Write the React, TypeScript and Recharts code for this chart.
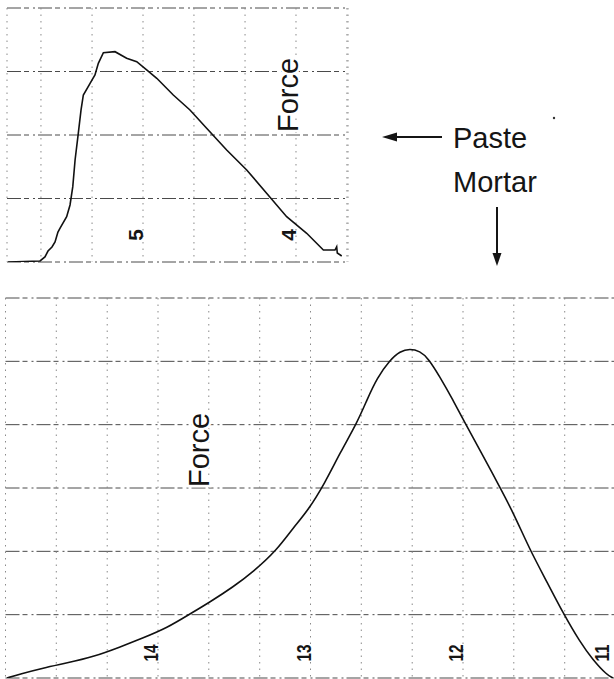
import React from 'react';
import { LineChart, Line, XAxis, YAxis, CartesianGrid } from 'recharts';

// ---------- Paste (upper trace) ----------
const pasteTime = [
  5.882, 5.673, 5.641, 5.621, 5.595, 5.575, 5.556, 5.542, 5.499, 5.477, 5.459, 5.444,
  5.423, 5.405, 5.39, 5.346, 5.314, 5.292, 5.259, 5.183, 5.107, 5.041, 4.976, 4.91,
  4.802, 4.693, 4.584, 4.453, 4.322, 4.192, 4.061, 3.93, 3.821, 3.745, 3.734, 3.73, 3.701,
];
const pasteForce = [
  0, 0.016, 0.079, 0.173, 0.236, 0.315, 0.472, 0.535, 0.713, 0.898, 1.186, 1.606,
  2.027, 2.394, 2.63, 2.814, 2.945, 3.129, 3.296, 3.312, 3.208, 3.154, 3.024, 2.893,
  2.63, 2.394, 2.106, 1.764, 1.449, 1.082, 0.713, 0.452, 0.189, 0.189, 0.241, 0.142, 0.094,
];
const pasteGridTicks = [5.667, 5.333, 5, 4.667, 4.333, 4, 3.667];
const pasteLabelTicks = [5, 4];
const pasteForceTicks = [0, 1, 2, 3, 4];

// ---------- Mortar (lower trace) ----------
const mortarTime = [
  14.99, 14.905, 14.754, 14.597, 14.426, 14.249, 14.098, 13.941, 13.79, 13.659, 13.508,
  13.377, 13.22, 13.115, 13.023, 12.905, 12.807, 12.695, 12.63, 12.564, 12.479, 12.413,
  12.348, 12.282, 12.23, 12.151, 12.066, 11.987, 11.889, 11.777, 11.672, 11.561, 11.449,
  11.344, 11.233, 11.148, 11.056, 11.016,
];
const mortarForce = [
  0, 0.063, 0.158, 0.237, 0.332, 0.489, 0.632, 0.79, 1.011, 1.2, 1.437,
  1.674, 2.021, 2.369, 2.621, 3.079, 3.553, 4.027, 4.39, 4.737, 5.021, 5.16,
  5.2, 5.16, 5.053, 4.753, 4.39, 4.027, 3.6, 3.095, 2.621, 2.021, 1.516,
  1.026, 0.568, 0.284, 0.047, 0,
];
const mortarGridTicks = [
  15, 14.667, 14.333, 14, 13.667, 13.333, 13, 12.667, 12.333, 12, 11.667, 11.333, 11,
];
const mortarLabelTicks = [14, 13, 12, 11];
const mortarForceTicks = [0, 1, 2, 3, 4, 5, 6];

const pasteData = pasteTime.map((t, i) => ({ t, f: pasteForce[i] }));
const mortarData = mortarTime.map((t, i) => ({ t, f: mortarForce[i] }));

const FONT = '"Liberation Sans", Arial, Helvetica, sans-serif';

const makeTick = (labels: number[], offset: number) => (props: any) => {
  const { x, y, payload } = props;
  const v = payload && payload.value;
  const hit = labels.find((l) => Math.abs(l - v) < 0.01);
  if (hit === undefined) return <g />;
  const s = String(hit);
  const bx = Math.min(x, 609);
  const cy = y - offset;
  const extra: any = s.length > 1 ? { textLength: 17, lengthAdjust: 'spacingAndGlyphs' } : {};
  return (
    <text
      x={bx}
      y={cy}
      transform={`rotate(-90 ${bx} ${cy})`}
      textAnchor="middle"
      fontSize={21}
      fontWeight={700}
      fontFamily={FONT}
      fill="#151515"
      {...extra}
    >
      {s}
    </text>
  );
};

const hGrid = { stroke: '#4a4a4a', strokeDasharray: '14 3 5 4 2 3' };
const vGrid = { stroke: '#8a8a8a', strokeDasharray: '1.5 5' };

export default function App() {
  return (
    <div
      style={{
        position: 'absolute',
        left: 0,
        top: 0,
        width: 614,
        height: 679,
        overflow: 'hidden',
        background: '#fff',
      }}
    >
      <div style={{ position: 'absolute', left: 0, top: 0 }}>
        <LineChart width={360} height={282} data={pasteData} margin={{ left: 7, right: 12, top: 8, bottom: 0 }}>
          <CartesianGrid vertical={false} {...hGrid} />
          <CartesianGrid horizontal={false} {...vGrid} />
          <XAxis
            type="number"
            dataKey="t"
            domain={[3.66, 5.889]}
            reversed
            ticks={pasteGridTicks}
            interval={0}
            tick={makeTick(pasteLabelTicks, 27)}
            tickLine={false}
            axisLine={false}
            tickSize={0}
            tickMargin={0}
            height={20}
            allowDataOverflow
          />
          <YAxis type="number" domain={[0, 4]} ticks={pasteForceTicks} hide allowDataOverflow />
          <Line type="linear" dataKey="f" stroke="#111" strokeWidth={1.6} dot={false} isAnimationActive={false} />
        </LineChart>
      </div>

      <div style={{ position: 'absolute', left: 0, top: 290 }}>
        <LineChart width={630} height={408} data={mortarData} margin={{ left: 5.5, right: 14.5, top: 8, bottom: 0 }}>
          <CartesianGrid vertical={false} {...hGrid} />
          <CartesianGrid horizontal={false} {...vGrid} />
          <XAxis
            type="number"
            dataKey="t"
            domain={[11, 15]}
            reversed
            ticks={mortarGridTicks}
            interval={0}
            tick={makeTick(mortarLabelTicks, 25)}
            tickLine={false}
            axisLine={false}
            tickSize={0}
            tickMargin={0}
            height={20}
            allowDataOverflow
          />
          <YAxis type="number" domain={[0, 6]} ticks={mortarForceTicks} hide allowDataOverflow />
          <Line type="basis" dataKey="f" stroke="#111" strokeWidth={1.6} dot={false} isAnimationActive={false} />
        </LineChart>
      </div>

      <svg
        width={614}
        height={679}
        style={{ position: 'absolute', left: 0, top: 0, pointerEvents: 'none' }}
      >
        <text
          x={298}
          y={95}
          transform="rotate(-90 298 95)"
          textAnchor="middle"
          fontSize={29}
          fontFamily={FONT}
          fill="#151515"
          stroke="#fff"
          strokeWidth={5}
          paintOrder="stroke"
        >
          Force
        </text>
        <text
          x={209}
          y={450}
          transform="rotate(-90 209 450)"
          textAnchor="middle"
          fontSize={29}
          fontFamily={FONT}
          fill="#151515"
          stroke="#fff"
          strokeWidth={5}
          paintOrder="stroke"
        >
          Force
        </text>
        <text x={453} y={148} fontSize={29} fontFamily={FONT} fill="#151515">
          Paste
        </text>
        <text x={453} y={192} fontSize={29} fontFamily={FONT} fill="#151515">
          Mortar
        </text>
        <line x1={442} y1={137} x2={392} y2={137} stroke="#151515" strokeWidth={2} />
        <polygon points="382,137 397,132.5 397,141.5" fill="#151515" />
        <line x1={497} y1={207} x2={497} y2={257} stroke="#151515" strokeWidth={2} />
        <polygon points="497,266 492.5,253 501.5,253" fill="#151515" />
        <circle cx={554} cy={118} r={1.2} fill="#333" />
      </svg>
    </div>
  );
}
